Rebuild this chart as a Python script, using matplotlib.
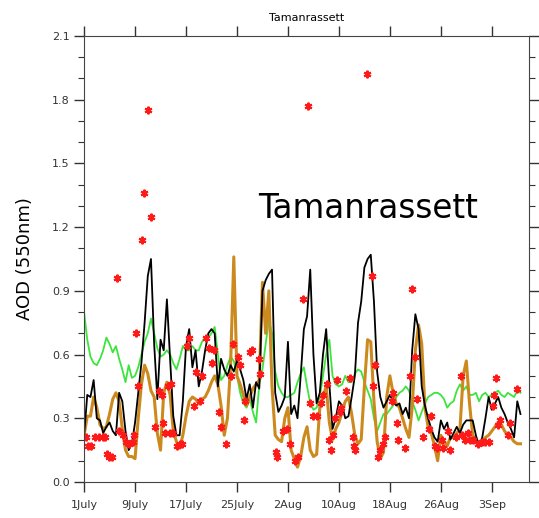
import numpy as np
import matplotlib
matplotlib.use("Agg")
import matplotlib.pyplot as plt
from matplotlib.ticker import MultipleLocator

# model series, 12-hourly from 1 July (day 0)
black_aod = [0.22, 0.41, 0.40, 0.48, 0.30, 0.29, 0.23, 0.26, 0.28, 0.24,
             0.22, 0.42, 0.38, 0.24, 0.15, 0.18, 0.28, 0.42, 0.56, 0.75,
             0.97, 1.05, 0.65, 0.39, 0.67, 0.62, 0.86, 0.58, 0.31, 0.22,
             0.22, 0.38, 0.64, 0.72, 0.54, 0.62, 0.45, 0.52, 0.62, 0.70,
             0.72, 0.70, 0.45, 0.58, 0.53, 0.50, 0.55, 0.52, 0.57, 0.53,
             0.48, 0.39, 0.46, 0.35, 0.47, 0.44, 0.90, 0.95, 0.98, 1.00,
             0.42, 0.33, 0.36, 0.40, 0.66, 0.32, 0.36, 0.30, 0.50, 0.72,
             0.78, 1.00, 0.60, 0.37, 0.42, 0.60, 0.72, 0.46, 0.25, 0.30,
             0.38, 0.36, 0.30, 0.31, 0.40, 0.50, 0.75, 0.85, 1.01, 1.05,
             1.07, 0.85, 0.52, 0.40, 0.35, 0.38, 0.41, 0.38, 0.36, 0.37,
             0.32, 0.35, 0.30, 0.62, 0.79, 0.72, 0.45, 0.36, 0.30, 0.25,
             0.21, 0.19, 0.29, 0.25, 0.28, 0.20, 0.23, 0.26, 0.23, 0.27,
             0.29, 0.29, 0.29, 0.22, 0.17, 0.21, 0.30, 0.40, 0.34, 0.37,
             0.40, 0.35, 0.32, 0.28, 0.25, 0.21, 0.38, 0.32]

orange_aod = [0.22, 0.31, 0.31, 0.40, 0.35, 0.27, 0.25, 0.26, 0.32, 0.39,
              0.42, 0.38, 0.25, 0.15, 0.12, 0.12, 0.11, 0.30, 0.46, 0.55,
              0.51, 0.43, 0.40, 0.23, 0.15, 0.42, 0.47, 0.41, 0.24, 0.19,
              0.16, 0.22, 0.31, 0.38, 0.40, 0.39, 0.37, 0.39, 0.40, 0.43,
              0.47, 0.50, 0.46, 0.36, 0.22, 0.30, 0.55, 1.06, 0.50, 0.46,
              0.41, 0.36, 0.40, 0.44, 0.46, 0.48, 0.94, 0.70, 0.90, 0.45,
              0.22, 0.20, 0.19, 0.30, 0.35, 0.15, 0.11, 0.07, 0.12, 0.21,
              0.26, 0.15, 0.12, 0.13, 0.35, 0.40, 0.45, 0.28, 0.20, 0.25,
              0.28, 0.33, 0.38, 0.40, 0.32, 0.22, 0.18, 0.20, 0.45, 0.67,
              0.66, 0.38, 0.19, 0.11, 0.14, 0.40, 0.50, 0.42, 0.37, 0.35,
              0.30, 0.25, 0.21, 0.35, 0.62, 0.74, 0.65, 0.35, 0.26, 0.23,
              0.17, 0.10, 0.22, 0.19, 0.17, 0.21, 0.21, 0.23, 0.25, 0.50,
              0.57, 0.37, 0.22, 0.20, 0.17, 0.19, 0.21, 0.22, 0.24, 0.26,
              0.28, 0.27, 0.24, 0.22, 0.21, 0.19, 0.18, 0.18]

green_aod = [0.80, 0.67, 0.59, 0.56, 0.55, 0.58, 0.62, 0.68, 0.65, 0.61,
             0.64, 0.58, 0.53, 0.47, 0.55, 0.49, 0.50, 0.54, 0.60, 0.66,
             0.70, 0.77, 0.70, 0.63, 0.59, 0.60, 0.62, 0.60, 0.56, 0.53,
             0.58, 0.64, 0.62, 0.62, 0.64, 0.62, 0.62, 0.66, 0.68, 0.68,
             0.70, 0.73, 0.60, 0.48, 0.50, 0.55, 0.59, 0.57, 0.50, 0.42,
             0.37, 0.35, 0.39, 0.33, 0.28, 0.46, 0.53, 0.65, 0.76, 0.70,
             0.52, 0.45, 0.42, 0.40, 0.40, 0.41, 0.42, 0.47, 0.51, 0.54,
             0.45, 0.37, 0.34, 0.35, 0.40, 0.50, 0.60, 0.67, 0.50, 0.46,
             0.45, 0.46, 0.50, 0.47, 0.47, 0.51, 0.53, 0.52, 0.47, 0.43,
             0.39, 0.30, 0.24, 0.28, 0.32, 0.32, 0.34, 0.36, 0.40, 0.42,
             0.43, 0.45, 0.43, 0.38, 0.34, 0.29, 0.33, 0.37, 0.40, 0.41,
             0.42, 0.42, 0.41, 0.39, 0.35, 0.37, 0.38, 0.43, 0.46, 0.43,
             0.45, 0.41, 0.41, 0.42, 0.38, 0.41, 0.42, 0.40, 0.41, 0.42,
             0.43, 0.41, 0.40, 0.42, 0.41, 0.40, 0.43, 0.42]

# observations (day since 1 July, AOD)
obs_day = [0.26, 0.63, 1.15, 1.68, 2.3, 2.9, 3.35, 3.56, 3.93, 4.45,
           5.1, 5.5, 6.18, 6.54, 7.07, 7.6, 7.85, 8.1, 8.4, 9.15,
           9.4, 10.1, 10.5, 11.2, 11.7, 12.2, 12.4, 12.7, 13.2, 13.5,
           13.6, 14.0, 14.55, 15.1, 15.4, 16.2, 16.5, 17.2, 17.5, 18.2,
           18.5, 19.2, 19.6, 20.1, 20.4, 21.2, 21.5, 22.2, 23.0, 23.4,
           24.2, 24.4, 25.1, 25.3, 26.0, 26.3, 27.4, 27.6, 30.2, 30.35,
           31.3, 31.8, 32.4, 33.1, 33.5, 34.4, 35.2, 35.4, 36.0, 36.5,
           37.2, 37.5, 38.1, 38.5, 38.7, 39.1, 39.4, 39.7, 40.1, 40.4,
           41.1, 41.7, 42.2, 42.4, 42.6, 44.4, 45.2, 45.4, 45.7, 46.2,
           46.4, 46.9, 47.3, 48.3, 48.5, 49.1, 49.3, 50.4, 51.1, 51.4,
           52.0, 52.3, 53.2, 54.1, 54.4, 55.1, 55.4, 56.2, 56.4, 57.2,
           57.4, 58.4, 59.1, 59.3, 59.8, 60.3, 60.6, 61.1, 61.9, 62.4,
           62.9, 63.5, 64.2, 64.4, 64.7, 64.9, 65.3, 66.5, 66.9, 68.0]
obs_aod = [0.21, 0.17, 0.17, 0.21, 0.21, 0.21, 0.21, 0.13, 0.12, 0.12,
           0.96, 0.24, 0.22, 0.19, 0.18, 0.19, 0.22, 0.70, 0.45, 1.14,
           1.36, 1.75, 1.25, 0.26, 0.43, 0.41, 0.28, 0.23, 0.45, 0.23,
           0.46, 0.23, 0.17, 0.18, 0.18, 0.64, 0.68, 0.36, 0.52, 0.38,
           0.50, 0.68, 0.63, 0.56, 0.62, 0.33, 0.26, 0.18, 0.50, 0.65,
           0.59, 0.55, 0.29, 0.38, 0.61, 0.62, 0.58, 0.51, 0.14, 0.12,
           0.24, 0.25, 0.18, 0.10, 0.12, 0.86, 1.77, 0.37, 0.31, 0.31,
           0.37, 0.41, 0.46, 0.20, 0.15, 0.22, 0.30, 0.48, 0.33, 0.35,
           0.43, 0.49, 0.21, 0.17, 0.15, 1.92, 0.97, 0.45, 0.55, 0.12,
           0.15, 0.18, 0.21, 0.38, 0.42, 0.28, 0.20, 0.16, 0.50, 0.91,
           0.59, 0.39, 0.21, 0.25, 0.31, 0.17, 0.16, 0.20, 0.16, 0.24,
           0.15, 0.21, 0.50, 0.22, 0.20, 0.23, 0.20, 0.20, 0.18, 0.19,
           0.19, 0.19, 0.36, 0.41, 0.49, 0.27, 0.29, 0.22, 0.28, 0.44]

tick_days = [0, 8, 16, 24, 32, 40, 48, 56, 64]
tick_labels = ["1July", "9July", "17July", "25July", "2Aug",
               "10Aug", "18Aug", "26Aug", "3Sep"]
station = "Tamanrassett"

t = np.arange(len(black_aod)) * 0.5

fig = plt.figure(figsize=(5.39, 5.18), dpi=100)
ax = fig.add_axes([0.156, 0.0695, 0.825, 0.861])

ax.plot(np.arange(len(green_aod)) * 0.5, green_aod, color="#3ee43e", lw=1.3)
ax.plot(np.arange(len(orange_aod)) * 0.5, orange_aod, color="#cc8a1e", lw=2.2)
ax.plot(t, black_aod, color="black", lw=1.3)
ax.plot(obs_day, obs_aod, ls="none", marker=(6, 2, 0), ms=5.5, mew=1.5,
        color="#ff1a1a")

ax.set_xlim(0, 69.8)
ax.set_ylim(0, 2.1)
ax.set_xticks(tick_days)
ax.set_xticklabels(tick_labels)
ax.yaxis.set_major_locator(MultipleLocator(0.3))
ax.yaxis.set_minor_locator(MultipleLocator(0.1))
ax.yaxis.set_major_formatter(matplotlib.ticker.FormatStrFormatter("%.1f"))
ax.tick_params(which="both", direction="out", top=True, right=True,
               labelsize=8, colors="#333333")
ax.tick_params(which="major", length=7, width=1)
ax.tick_params(which="minor", length=4, width=0.8)
ax.tick_params(axis="x", pad=6)
for s in ax.spines.values():
    s.set_color("#444444")
ax.set_ylabel("AOD (550nm)", fontsize=13, labelpad=13)
ax.set_title(station, fontsize=8, pad=11)
ax.text(0.638, 0.614, station, transform=ax.transAxes, fontsize=23.5,
        ha="center", va="center")

fig.savefig("out.png", dpi=100)
